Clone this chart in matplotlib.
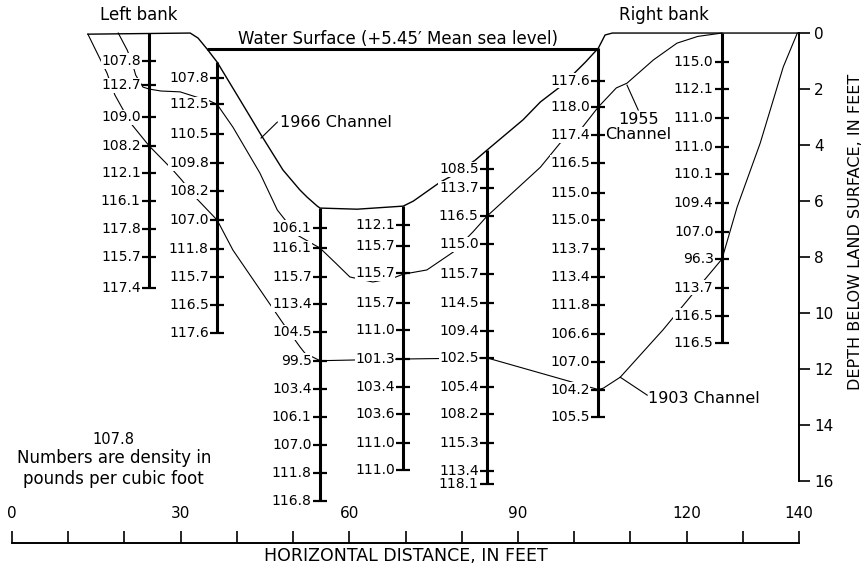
import numpy as np
import matplotlib
matplotlib.use('Agg')
import matplotlib.pyplot as plt

plt.rcParams['font.family'] = ['DejaVu Sans']

# sampling columns: distance (ft), top depth (ft), sample depths and densities
col_x = [24.4, 36.5, 54.8, 69.6, 84.5, 104.3, 126.3]
col_top = [0.0, 1.04, 6.25, 6.18, 4.18, 0.54, 0.0]
col_depths = [
    [1.0, 1.86, 3.0, 4.03, 5.0, 6.0, 7.0, 8.0, 9.1],
    [1.6, 2.55, 3.6, 4.65, 5.64, 6.68, 7.7, 8.7, 9.7, 10.7],
    [6.96, 7.68, 8.7, 9.68, 10.68, 11.7, 12.7, 13.7, 14.7, 15.7, 16.7],
    [6.86, 7.6, 8.57, 9.64, 10.6, 11.64, 12.64, 13.6, 14.64, 15.6],
    [4.86, 5.54, 6.54, 7.54, 8.6, 9.64, 10.64, 11.6, 12.64, 13.6, 14.64, 15.64, 16.1],
    [1.7, 2.64, 3.64, 4.64, 5.7, 6.68, 7.7, 8.7, 9.7, 10.73, 11.76, 12.73, 13.7],
    [1.03, 2.0, 3.05, 4.06, 5.04, 6.08, 7.1, 8.07, 9.1, 10.1, 11.07],
]
col_values = [
    ['107.8', '112.7', '109.0', '108.2', '112.1', '116.1', '117.8', '115.7', '117.4'],
    ['107.8', '112.5', '110.5', '109.8', '108.2', '107.0', '111.8', '115.7', '116.5', '117.6'],
    ['106.1', '116.1', '115.7', '113.4', '104.5', '99.5', '103.4', '106.1', '107.0', '111.8', '116.8'],
    ['112.1', '115.7', '115.7', '115.7', '111.0', '101.3', '103.4', '103.6', '111.0', '111.0'],
    ['108.5', '113.7', '116.5', '115.0', '115.7', '114.5', '109.4', '102.5', '105.4', '108.2',
     '115.3', '113.4', '118.1'],
    ['117.6', '118.0', '117.4', '116.5', '115.0', '115.0', '113.7', '113.4', '111.8', '106.6',
     '107.0', '104.2', '105.5'],
    ['115.0', '112.1', '111.0', '111.0', '110.1', '109.4', '107.0', '96.3', '113.7', '116.5', '116.5'],
]

# channel profiles (distance ft, depth ft)
ch1966_x = [13.5, 31.7, 33.1, 34.7, 36.5, 40.0, 42.7, 44.1, 48.2, 51.2, 52.5, 54.3, 54.8, 61.4, 69.6,
            71.4, 76.2, 78.5, 82.4, 84.5, 90.9, 94.0, 97.9, 102.0, 104.3, 105.5, 106.8, 140.0]
ch1966_d = [0.04, 0.0, 0.18, 0.57, 1.04, 2.2, 3.1, 3.57, 4.89, 5.6, 5.86, 6.18, 6.25, 6.29, 6.18,
            6.0, 5.32, 5.07, 4.54, 4.18, 3.1, 2.46, 1.86, 1.04, 0.54, 0.07, 0.0, 0.0]

ch1955_x = [18.9, 20.5, 21.4, 22.0, 23.3, 24.4, 26.5, 29.9, 33.5, 34.7, 36.5, 39.3, 44.1, 47.2, 50.7,
            54.8, 57.5, 60.1, 64.2, 67.8, 69.6, 73.8, 78.5, 82.0, 84.5, 94.0, 97.5, 101.1, 104.3,
            107.5, 109.4, 114.1, 118.3, 122.0, 126.3]
ch1955_d = [0.0, 0.61, 1.07, 1.5, 1.93, 2.0, 2.07, 2.1, 2.33, 2.38, 2.55, 3.36, 5.0, 6.32, 7.21,
            7.68, 8.2, 8.71, 8.89, 8.75, 8.61, 8.46, 7.82, 7.1, 6.54, 4.79, 3.93, 3.46, 2.64,
            1.96, 1.79, 0.96, 0.36, 0.12, 0.0]

ch1903_x = [13.5, 16.9, 18.3, 19.6, 21.4, 24.4, 28.6, 30.2, 32.6, 36.5, 39.3, 45.4, 48.2, 51.2, 52.1,
            54.8, 69.6, 84.5, 104.3, 105.2, 108.2, 115.8, 121.2, 126.3, 129.0, 133.1, 137.2, 139.7]
ch1903_d = [0.04, 1.43, 2.21, 2.68, 3.29, 4.03, 4.89, 5.25, 5.86, 6.68, 7.75, 9.54, 10.36, 11.2, 11.43,
            11.7, 11.64, 11.6, 12.73, 12.68, 12.29, 10.6, 9.29, 8.07, 6.21, 3.93, 1.21, 0.0]

water_x = [34.7, 104.3]
water_d = [0.57, 0.57]

x_ticks = list(range(0, 141, 10))
x_ticklabels = ['0', '', '', '30', '', '', '60', '', '', '90', '', '', '120', '', '140']
depth_ticks = list(range(0, 17, 2))

fig = plt.figure(figsize=(8.63, 5.76), dpi=100)
ax = fig.add_axes([12 / 863, 1 - 543 / 576, 787 / 863, 543 / 576])
ax.set_xlim(0, 140)
ax.set_ylim(18.21, -1.18)

# channel lines
ax.plot(ch1966_x, ch1966_d, color='black', lw=1.0, zorder=2)
ax.plot(ch1955_x, ch1955_d, color='black', lw=0.8, zorder=2)
ax.plot(ch1903_x, ch1903_d, color='black', lw=0.8, zorder=2)
ax.plot(water_x, water_d, color='black', lw=2.2, zorder=2, solid_capstyle='butt')

# sampling columns
for cx, top, deps, vals in zip(col_x, col_top, col_depths, col_values):
    ax.plot([cx, cx], [top, max(deps)], color='black', lw=2.2, zorder=4, solid_capstyle='butt')
    ax.plot([cx] * len(deps), deps, ls='none', marker='_', ms=10, mew=1.6, color='black', zorder=4)
    for d, v in zip(deps, vals):
        ax.text(cx - 1.5, d, v, ha='right', va='center', fontsize=10, zorder=3,
                bbox=dict(fc='white', ec='none', pad=0.4))

# labels and leaders
ax.text(68.6, 0.22, 'Water Surface (+5.45\u2032 Mean sea level)', ha='center', va='center', fontsize=12)
ax.text(22.6, -0.64, 'Left bank', ha='center', va='center', fontsize=12)
ax.text(116.0, -0.64, 'Right bank', ha='center', va='center', fontsize=12)

ax.plot([44.3, 47.2], [3.75, 3.18], color='black', lw=0.8)
ax.text(47.6, 3.2, '1966 Channel', ha='left', va='center', fontsize=11.5)

ax.plot([109.4, 111.4], [1.86, 2.75], color='black', lw=0.8)
ax.text(111.4, 3.35, '1955\nChannel', ha='center', va='center', fontsize=11.5, linespacing=1.05)

ax.plot([108.2, 113.0], [12.29, 12.93], color='black', lw=0.8)
ax.text(113.2, 13.04, '1903 Channel', ha='left', va='center', fontsize=11.5)

ax.text(18.1, 14.53, '107.8', ha='center', va='center', fontsize=10.5)
ax.text(18.1, 15.55, 'Numbers are density in\npounds per cubic foot', ha='center', va='center',
        fontsize=12, linespacing=1.2)

# axes styling
for side in ['left', 'top']:
    ax.spines[side].set_visible(False)
ax.spines['right'].set_bounds(0, 16)
ax.spines['right'].set_linewidth(1.4)
ax.spines['bottom'].set_linewidth(1.4)

ax.set_xticks(x_ticks)
ax.set_xticklabels(x_ticklabels)
ax.tick_params(axis='x', direction='in', length=9, width=1.2, pad=-27, labelsize=11)

ax.yaxis.tick_right()
ax.set_yticks(depth_ticks)
ax.set_yticklabels([str(t) for t in depth_ticks])
ax.tick_params(axis='y', direction='out', length=8, width=1.2, pad=3, labelsize=11)

ax.set_ylabel('DEPTH BELOW LAND SURFACE, IN FEET', fontsize=11.5)
ax.yaxis.set_label_position('right')
ax.yaxis.set_label_coords(148.7, 7.1, transform=ax.transData)

ax.set_xlabel('HORIZONTAL DISTANCE, IN FEET', fontsize=12.5, labelpad=3)

fig.savefig('out.png', dpi=100)
